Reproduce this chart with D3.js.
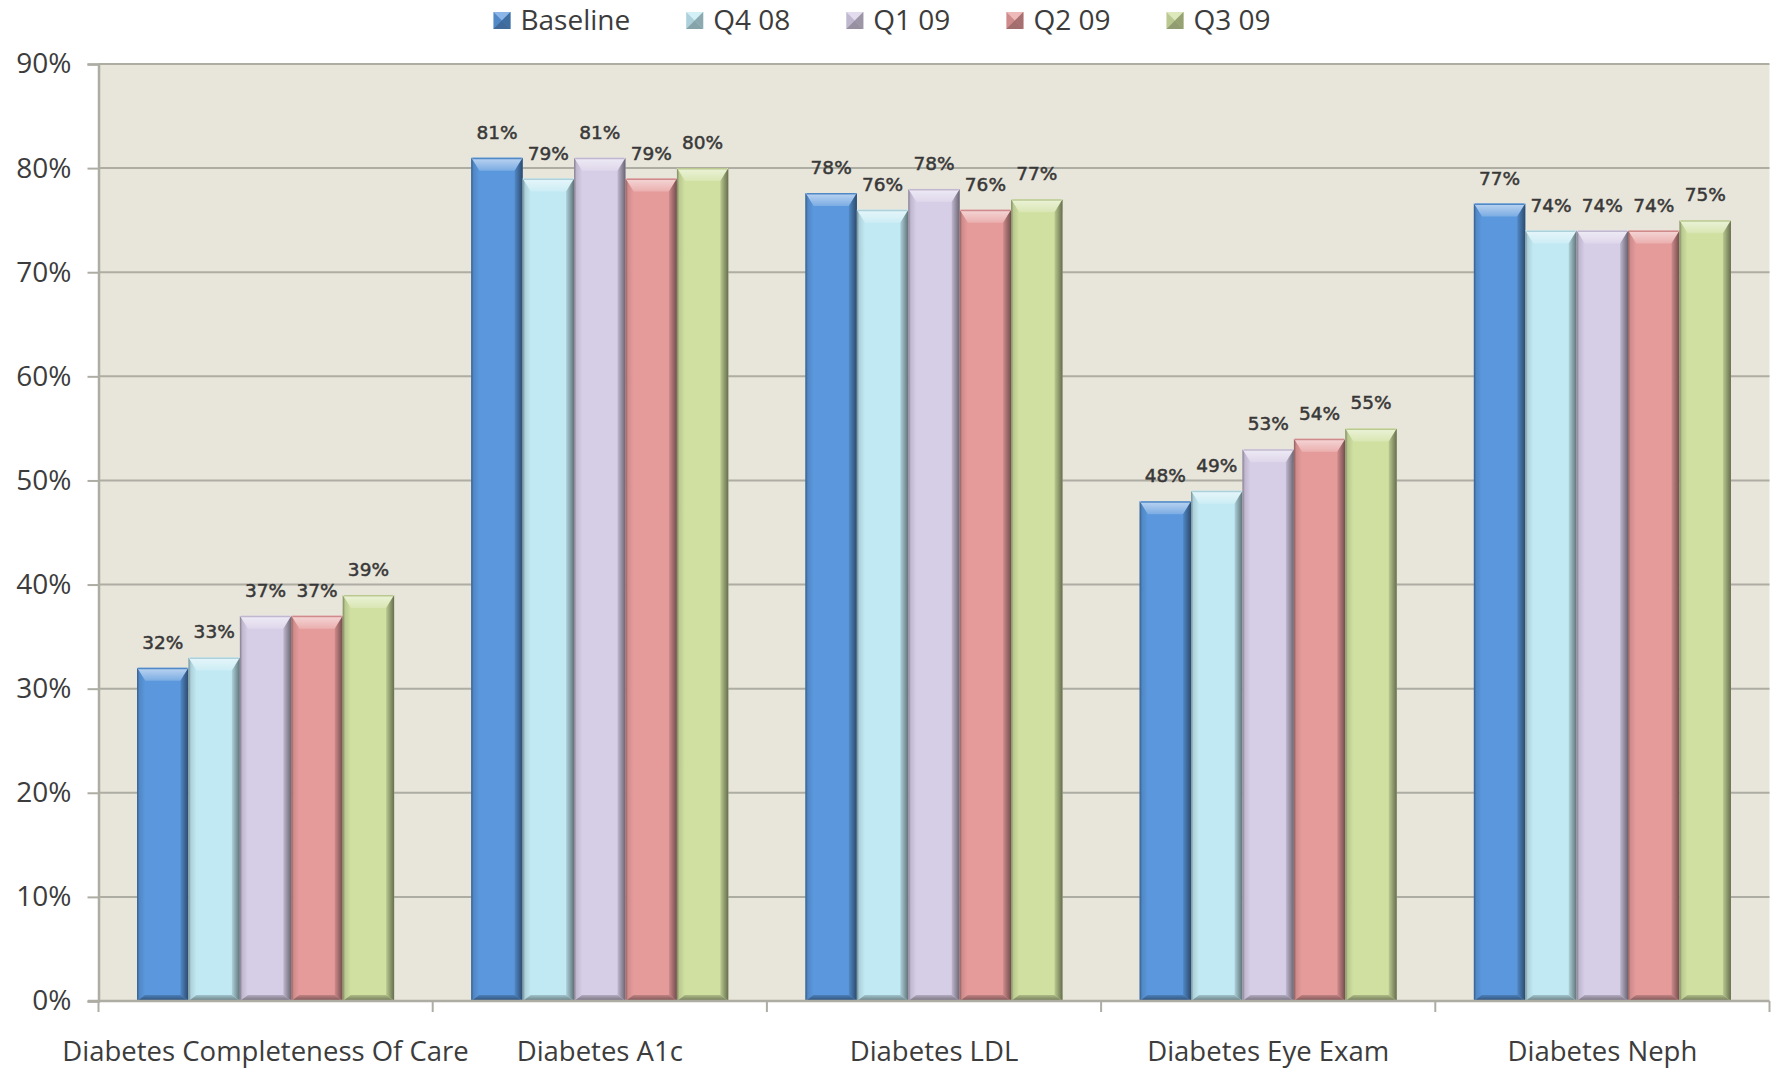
<!DOCTYPE html>
<html>
<head>
<meta charset="utf-8">
<script src="https://cdn.jsdelivr.net/npm/d3@7"></script>
<style>
  body { margin: 0; background: #ffffff; }
  svg { display: block; }
</style>
</head>
<body>
<svg id="chart" width="1775" height="1069"></svg>
<script>
// ---- data ----
const categories = [
  "Diabetes Completeness Of Care",
  "Diabetes A1c",
  "Diabetes LDL",
  "Diabetes Eye Exam",
  "Diabetes Neph"
];
const seriesNames = ["Baseline", "Q4 08", "Q1 09", "Q2 09", "Q3 09"];
const baseline = [0.32, 0.81, 0.776, 0.48, 0.766];
const q4_08    = [0.33, 0.79, 0.76, 0.49, 0.74];
const q1_09    = [0.37, 0.81, 0.78, 0.53, 0.74];
const q2_09    = [0.37, 0.79, 0.76, 0.54, 0.74];
const q3_09    = [0.39, 0.80, 0.77, 0.55, 0.75];
const yTicks   = [0, 0.1, 0.2, 0.3, 0.4, 0.5, 0.6, 0.7, 0.8, 0.9];
const seriesColors = ["#5a97dc", "#c1e9f3", "#d6cde6", "#e69b9b", "#cfe0a0"];

const seriesValues = [baseline, q4_08, q1_09, q2_09, q3_09];
const rows = categories.map((c, i) => ({
  category: c,
  bars: seriesNames.map((s, j) => ({ series: s, idx: j, value: seriesValues[j][i] }))
}));

// ---- layout ----
const plot = { left: 98.5, right: 1769.5, top: 64, bottom: 1001 };
const svg = d3.select("#chart");
const defs = svg.append("defs");

const x0 = d3.scaleBand().domain(categories).range([plot.left, plot.right]).paddingInner(0).paddingOuter(0);
const x1 = d3.scaleBand().domain(seriesNames).range([0, x0.bandwidth()]).paddingInner(0).paddingOuter(0.75);
const y = d3.scaleLinear().domain([0, 0.9]).range([plot.bottom, plot.top]);
const pct = d3.format(".0%");

const textColor = "#3c3c3c";
const gridColor = "#aeada4";

// plot background
svg.append("rect")
  .attr("x", plot.left).attr("y", plot.top)
  .attr("width", plot.right - plot.left).attr("height", plot.bottom - plot.top)
  .attr("fill", "#e8e5da");

// gridlines
svg.append("g").selectAll("line").data(yTicks.slice(1)).join("line")
  .attr("x1", plot.left).attr("x2", plot.right)
  .attr("y1", d => y(d)).attr("y2", d => y(d))
  .attr("stroke", gridColor).attr("stroke-width", 2);

// y axis
const yAxis = svg.append("g")
  .attr("transform", `translate(${plot.left},0)`)
  .call(d3.axisLeft(y).tickValues(yTicks).tickFormat(d3.format(".0%")).tickSize(11).tickPadding(16));
yAxis.select(".domain").attr("stroke", gridColor).attr("stroke-width", 2.5);
yAxis.selectAll(".tick line").attr("stroke", gridColor).attr("stroke-width", 2);
yAxis.selectAll("text")
  .attr("fill", textColor)
  .style("font-family", "'Open Sans', sans-serif")
  .style("font-size", "28px");

// gradients for the bevelled bar faces
seriesColors.forEach((col, j) => {
  const c = d3.color(col);
  const gTop = defs.append("linearGradient").attr("id", `top${j}`)
    .attr("x1", 0).attr("y1", 0).attr("x2", 0).attr("y2", 1);
  gTop.append("stop").attr("offset", 0).attr("stop-color", d3.interpolateRgb(col, "#ffffff")(0.6));
  gTop.append("stop").attr("offset", 1).attr("stop-color", d3.interpolateRgb(col, "#ffffff")(0.2));

  const gRight = defs.append("linearGradient").attr("id", `right${j}`)
    .attr("x1", 0).attr("y1", 0).attr("x2", 1).attr("y2", 0);
  gRight.append("stop").attr("offset", 0).attr("stop-color", c.darker(0.3));
  gRight.append("stop").attr("offset", 1).attr("stop-color", c.darker(2.0));

  const gLeft = defs.append("linearGradient").attr("id", `left${j}`)
    .attr("x1", 0).attr("y1", 0).attr("x2", 1).attr("y2", 0);
  gLeft.append("stop").attr("offset", 0).attr("stop-color", c.darker(1.4));
  gLeft.append("stop").attr("offset", 0.3).attr("stop-color", c.darker(0.3));
  gLeft.append("stop").attr("offset", 1).attr("stop-color", col);

  const gBottom = defs.append("linearGradient").attr("id", `bottom${j}`)
    .attr("x1", 0).attr("y1", 0).attr("x2", 0).attr("y2", 1);
  gBottom.append("stop").attr("offset", 0).attr("stop-color", c.darker(0.5));
  gBottom.append("stop").attr("offset", 1).attr("stop-color", c.darker(1.8));
});

// bars
const groups = svg.append("g").selectAll("g").data(rows).join("g")
  .attr("transform", d => `translate(${x0(d.category)},0)`);

const bars = groups.selectAll("g.bar").data(d => d.bars).join("g").attr("class", "bar");

bars.each(function(d) {
  const g = d3.select(this);
  const bx = x1(d.series), bw = x1.bandwidth();
  const top = y(d.value), bot = y(0);
  const h = bot - top;
  const bt = 13, bs = 8, bb = 6;
  const pts = a => a.map(p => p.join(",")).join(" ");
  g.append("rect").attr("x", bx).attr("y", top).attr("width", bw).attr("height", h)
    .attr("fill", seriesColors[d.idx]);
  // top bevel
  g.append("polygon").attr("points", pts([[bx, top], [bx + bw, top], [bx + bw - bs, top + bt], [bx + bs, top + bt]]))
    .attr("fill", `url(#top${d.idx})`);
  // left bevel
  g.append("polygon").attr("points", pts([[bx, top], [bx + bs, top + bt], [bx + bs, bot - bb], [bx, bot]]))
    .attr("fill", `url(#left${d.idx})`);
  // right bevel
  g.append("polygon").attr("points", pts([[bx + bw, top], [bx + bw, bot], [bx + bw - bs, bot - bb], [bx + bw - bs, top + bt]]))
    .attr("fill", `url(#right${d.idx})`);
  // bottom bevel
  g.append("polygon").attr("points", pts([[bx, bot], [bx + bs, bot - bb], [bx + bw - bs, bot - bb], [bx + bw, bot]]))
    .attr("fill", `url(#bottom${d.idx})`);
  // top edge, a touch darker
  g.append("line").attr("x1", bx + 1).attr("x2", bx + bw - 1).attr("y1", top + 0.75).attr("y2", top + 0.75)
    .attr("stroke", d3.color(seriesColors[d.idx]).darker(0.3)).attr("stroke-width", 1.5);
});

// value labels
bars.append("text")
  .attr("x", d => x1(d.series) + x1.bandwidth() / 2)
  .attr("y", d => y(d.value) - 19)
  .attr("text-anchor", "middle")
  .attr("fill", "#383838")
  .attr("stroke", "#383838")
  .attr("stroke-width", 0.5)
  .style("font-family", "'DejaVu Sans', sans-serif")
  .style("font-size", "18.5px")
  .text(d => pct(d.value));

// category axis
const xAxis = svg.append("g").attr("transform", `translate(0,${plot.bottom})`);
xAxis.append("line").attr("x1", 88).attr("x2", plot.right)
  .attr("y1", 0).attr("y2", 0).attr("stroke", gridColor).attr("stroke-width", 2.5);
const boundaries = categories.map(c => x0(c)).concat([plot.right]);
xAxis.selectAll("line.tick").data(boundaries).join("line").attr("class", "tick")
  .attr("x1", d => d).attr("x2", d => d).attr("y1", 0).attr("y2", 11)
  .attr("stroke", gridColor).attr("stroke-width", 2);
xAxis.selectAll("text").data(categories).join("text")
  .attr("x", d => x0(d) + x0.bandwidth() / 2)
  .attr("y", 60)
  .attr("text-anchor", "middle")
  .attr("fill", textColor)
  .style("font-family", "'Open Sans', sans-serif")
  .style("font-size", "27.5px")
  .text(d => d);

// legend
const legend = svg.append("g");
const items = legend.selectAll("g").data(seriesNames).join("g");
items.append("text")
  .attr("x", 27).attr("y", 30)
  .attr("fill", textColor)
  .style("font-family", "'Open Sans', sans-serif")
  .style("font-size", "28px")
  .text(d => d);
items.each(function(d, j) {
  const g = d3.select(this);
  const s = 17, yy = 12;
  const col = seriesColors[j];
  const c = d3.color(col);
  g.insert("rect", "text").attr("x", 0).attr("y", yy).attr("width", s).attr("height", s).attr("fill", c.darker(0.3));
  g.insert("polygon", "text").attr("points", `0,${yy} ${s},${yy} ${s / 2},${yy + s / 2}`)
    .attr("fill", d3.interpolateRgb(col, "#ffffff")(0.3));
  g.insert("polygon", "text").attr("points", `0,${yy + s} ${s},${yy + s} ${s / 2},${yy + s / 2}`)
    .attr("fill", c.darker(1.0));
  g.insert("polygon", "text").attr("points", `${s},${yy} ${s},${yy + s} ${s / 2},${yy + s / 2}`)
    .attr("fill", c.darker(0.9));
});
const widths = [];
items.each(function() {
  widths.push(d3.select(this).select("text").node().getComputedTextLength());
});
const legendGap = 56;
const total = d3.sum(widths) + widths.length * 27 + (widths.length - 1) * legendGap;
let cursor = 882 - total / 2;
items.attr("transform", (d, j) => {
  const xPos = cursor;
  cursor += 27 + widths[j] + legendGap;
  return `translate(${xPos},0)`;
});
</script>
</body>
</html>
